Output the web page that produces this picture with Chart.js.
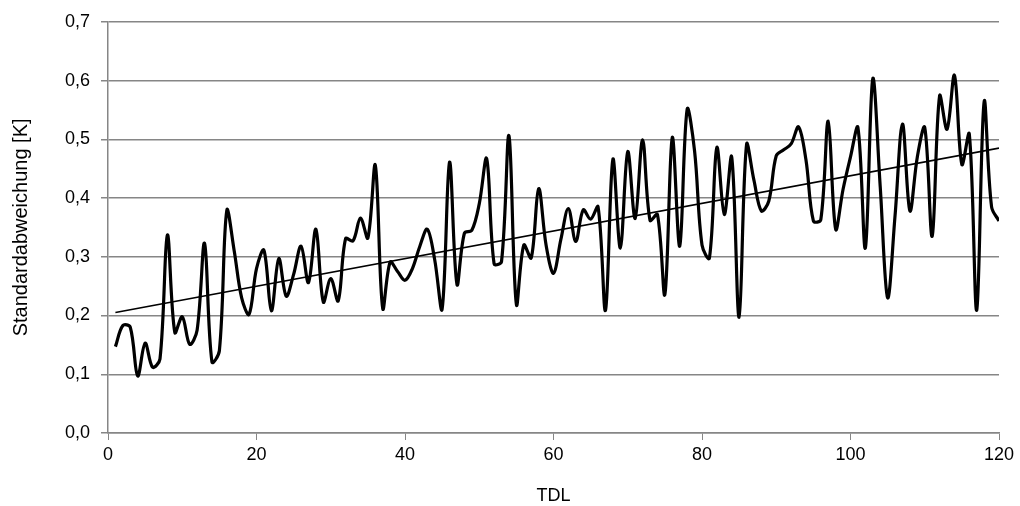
<!DOCTYPE html>
<html>
<head>
<meta charset="utf-8">
<script src="https://cdn.jsdelivr.net/npm/chart.js@4"></script>
<style>
  html, body { margin: 0; padding: 0; background: #fff; }
  #wrap { width: 1020px; height: 506px; }
</style>
</head>
<body>
<div id="wrap"><canvas id="chart_std"></canvas></div>
<script>
// TDL values 1..120
var tdl = [];
for (var i = 1; i <= 120; i++) tdl.push(i);

var stdDev = [
  0.147, 0.183, 0.180, 0.097, 0.153, 0.112, 0.126, 0.337, 0.171, 0.198,
  0.151, 0.175, 0.323, 0.121, 0.140, 0.379, 0.310, 0.230, 0.202, 0.280,
  0.311, 0.208, 0.297, 0.233, 0.270, 0.318, 0.256, 0.347, 0.223, 0.263,
  0.225, 0.331, 0.327, 0.366, 0.332, 0.456, 0.212, 0.291, 0.275, 0.260,
  0.280, 0.318, 0.347, 0.295, 0.211, 0.461, 0.253, 0.340, 0.345, 0.390,
  0.467, 0.288, 0.292, 0.506, 0.219, 0.320, 0.298, 0.416, 0.320, 0.272,
  0.330, 0.382, 0.326, 0.380, 0.364, 0.385, 0.209, 0.466, 0.315, 0.479,
  0.365, 0.499, 0.362, 0.372, 0.236, 0.503, 0.318, 0.551, 0.480, 0.320,
  0.298, 0.486, 0.372, 0.470, 0.197, 0.491, 0.430, 0.378, 0.395, 0.472,
  0.482, 0.492, 0.521, 0.465, 0.361, 0.363, 0.531, 0.347, 0.415, 0.470,
  0.520, 0.315, 0.603, 0.420, 0.230, 0.370, 0.526, 0.378, 0.470, 0.520,
  0.335, 0.574, 0.517, 0.609, 0.457, 0.509, 0.209, 0.564, 0.385, 0.361
];

// linear trend line, end points
var trendX = [1, 120];
var trendY = [0.205, 0.485];

var fontFamily = "'Liberation Sans', Arial, sans-serif";
var gridGrey = '#868686';

var chart_std = new Chart(document.getElementById('chart_std'), {
    type: 'line',
    data: {
        datasets: [
            {
                label: 'Standardabweichung',
                data: tdl.map(function(x, i) { return { x: x, y: stdDev[i] }; }),
                borderColor: '#000',
                borderWidth: 3.2,
                pointRadius: 0,
                tension: 0.35,
                fill: false
            },
            {
                label: 'Linear',
                data: trendX.map(function(x, i) { return { x: x, y: trendY[i] }; }),
                borderColor: '#000',
                borderWidth: 1.6,
                pointRadius: 0,
                tension: 0,
                fill: false
            }
        ]
    },
    options: {
        animation: false,
        responsive: true,
        maintainAspectRatio: false,
        layout: {
            padding: { left: 0, right: 21, top: 19, bottom: 0 }
        },
        plugins: {
            legend: { display: false },
            tooltip: { enabled: false }
        },
        scales: {
            x: {
                type: 'linear',
                min: 0,
                max: 120,
                title: {
                    display: true,
                    text: 'TDL',
                    color: '#000',
                    font: { family: fontFamily, size: 18, lineHeight: 1.1 },
                    padding: { top: 0, bottom: 0 }
                },
                ticks: {
                    stepSize: 20,
                    color: '#000',
                    padding: 4,
                    maxRotation: 0,
                    font: { family: fontFamily, size: 18 }
                },
                grid: {
                    drawOnChartArea: false,
                    drawTicks: true,
                    tickLength: 7,
                    color: gridGrey,
                    lineWidth: 1
                },
                border: { display: true, color: gridGrey, width: 1.5 },
                afterFit: function(scale) { scale.height = 73; }
            },
            y: {
                type: 'linear',
                min: 0,
                max: 0.7,
                title: {
                    display: true,
                    text: 'Standardabweichung [K]',
                    color: '#000',
                    font: { family: fontFamily, size: 20 },
                    padding: { top: 9, bottom: 0 }
                },
                ticks: {
                    stepSize: 0.1,
                    color: '#000',
                    padding: 11,
                    font: { family: fontFamily, size: 18 },
                    callback: function(value) {
                        return value.toFixed(1).replace('.', ',');
                    }
                },
                grid: {
                    drawTicks: true,
                    tickLength: 7,
                    color: gridGrey,
                    lineWidth: 1.5
                },
                border: { display: true, color: gridGrey, width: 1.5 },
                afterFit: function(scale) { scale.width = 108; }
            }
        }
    },
    plugins: [{
        id: 'whiteBackground',
        beforeDraw: (chart) => {
            const ctx = chart.canvas.getContext('2d');
            ctx.save();
            ctx.globalCompositeOperation = 'destination-over';
            ctx.fillStyle = 'white';
            ctx.fillRect(0, 0, chart.canvas.width, chart.canvas.height);
            ctx.restore();
        }
    }]
});
</script>
</body>
</html>
